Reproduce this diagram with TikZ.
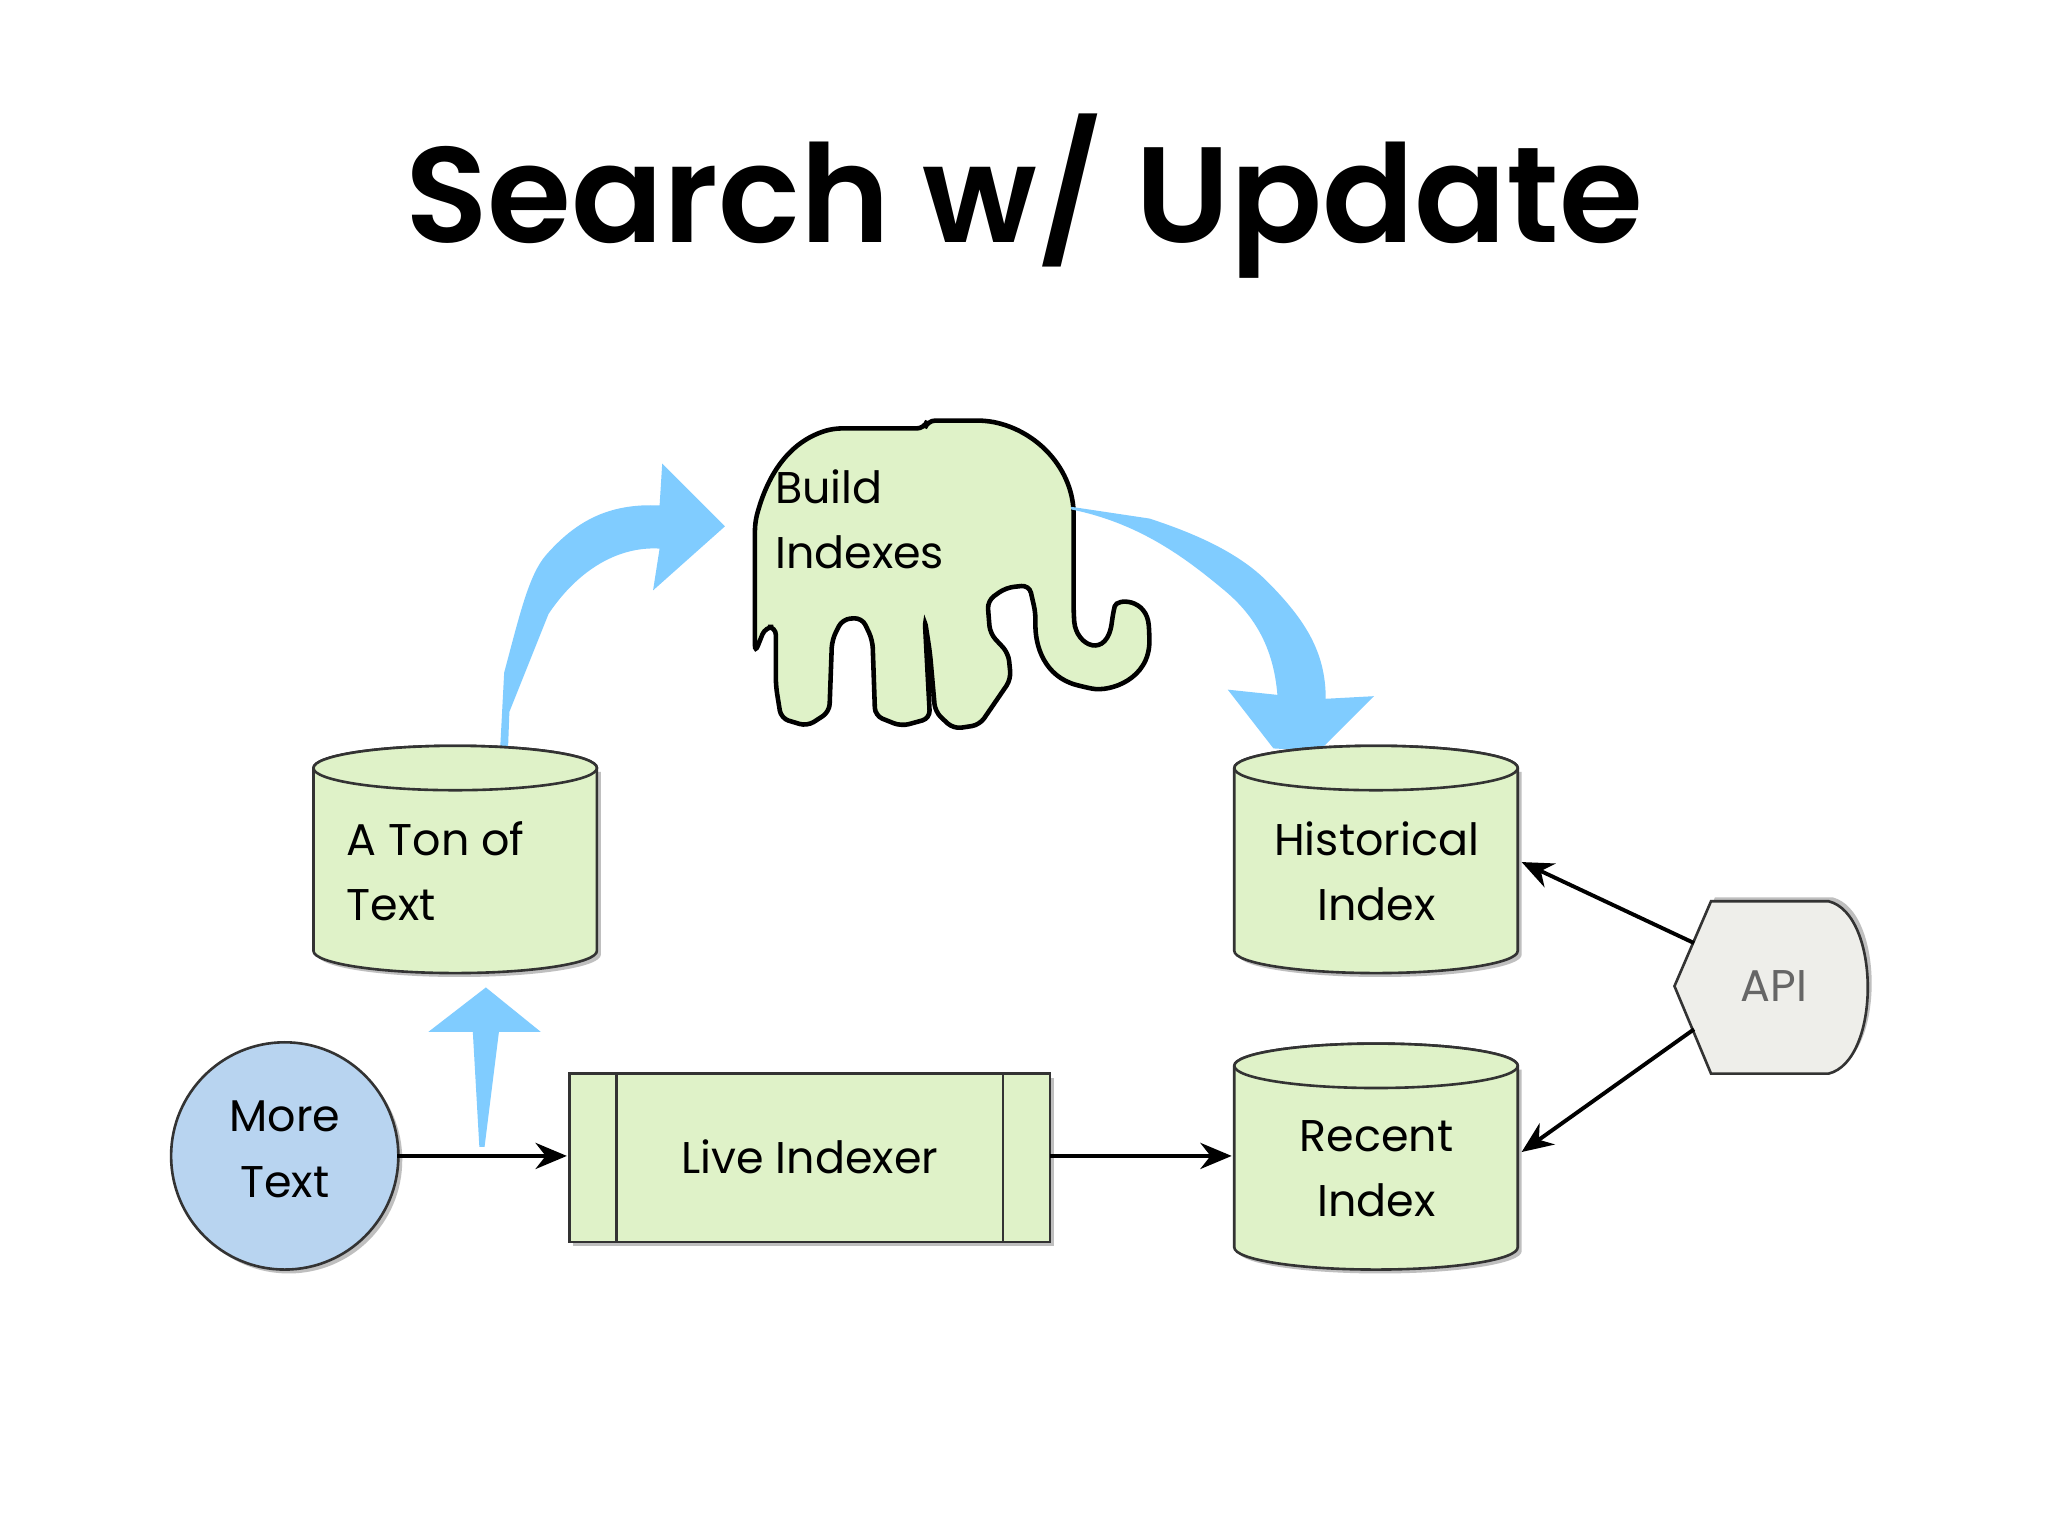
\documentclass[tikz,border=0pt]{standalone}
\usepackage{fontspec}
\setmainfont{Poppins}
\usetikzlibrary{arrows.meta,shapes.geometric}
\definecolor{gfill}{HTML}{DFF2C8}
\definecolor{bfill}{HTML}{B8D4F0}
\definecolor{afill}{HTML}{80CCFF}
\definecolor{apifill}{HTML}{EEEEEA}
\tikzset{
 lbl/.style={font=\fontsize{34}{50}\selectfont, align=center},
 cyl/.style={draw=black!80, fill=gfill, line width=2pt},
 conn/.style={line width=3pt, -{Stealth[length=24pt,width=20pt]}},
 fat/.style={fill=afill, draw=none}
}
\newcommand{\cylinder}[4]{% x1,x2,ytop,ybot
 \fill[black!25,xshift=3pt,yshift=-3pt] (#1,#3) -- (#1,#4) arc[x radius={(#2-#1)/2}, y radius=17, start angle=180, end angle=0] -- (#2,#3) -- cycle;
 \path[cyl] (#1,#3) -- (#1,#4) arc[x radius={(#2-#1)/2}, y radius=17, start angle=180, end angle=0] -- (#2,#3) arc[x radius={(#2-#1)/2}, y radius=17, start angle=0, end angle=-180] -- cycle;
 \draw[cyl] ({(#1+#2)/2},#3) ellipse[x radius={(#2-#1)/2}, y radius=17];
}
\begin{document}
\begin{tikzpicture}[x=1pt,y=-1pt]
\useasboundingbox[fill=white] (0,0) rectangle (1568,1176);
\node[font=\fontsize{104}{120}\selectfont\fontspec{Poppins SemiBold}] (title) at (784,150) {Search w/ Update};

% elephant
\draw[fill=gfill, line width=3.5pt, rounded corners=6pt]
 (578,400) .. controls (588,362) and (605,338) .. (638,328) -- (708,328) -- (710,322) -- (755,322)
 .. controls (795,330) and (822,360) .. (822,400) -- (822,470)
 .. controls (824,495) and (848,505) .. (852,470) .. controls (855,458) and (878,458) .. (880,485)
 .. controls (880,520) and (850,530) .. (830,526) .. controls (800,518) and (792,495) .. (793,470)
 -- (788,448) -- (770,450) -- (756,460) -- (758,485) -- (772,500) -- (774,520) -- (750,555)
 -- (730,558) -- (716,545) -- (712,500) -- (708,474) -- (712,550) -- (690,556) -- (670,548)
 -- (668,490) -- (660,473) -- (645,474) -- (637,490) -- (635,545) -- (618,556) -- (598,550)
 -- (594,525) -- (594,480) -- (586,480) -- (578,500) -- cycle;
\node[lbl, align=left, anchor=north west] (build) at (590,356) {Build\\Indexes};

% fat blue arrows
\fill[fat] (383,572) -- (386,515) .. controls (398,470) and (405,440) .. (418,425)
 .. controls (440,400) and (465,385) .. (505,387) -- (507,355) -- (555,403) -- (500,452) -- (505,420)
 .. controls (470,418) and (440,440) .. (420,470) -- (390,545) -- (389,572) -- cycle;
\fill[fat] (820,388) -- (880,397) .. controls (920,410) and (950,425) .. (970,445)
 .. controls (1000,475) and (1015,500) .. (1015,535) -- (1052,533) -- (1010,575) -- (975,573) -- (940,528) -- (978,532)
 .. controls (975,495) and (960,470) .. (935,450) .. controls (905,425) and (870,400) .. (820,390) -- cycle;
\fill[fat] (367,878) -- (362,790) -- (328,790) -- (372,756) -- (414,790) -- (382,790) -- (371,878) -- cycle;

% cylinders
\cylinder{240}{457}{588}{728}
\node[lbl, align=left, anchor=west] (ton) at (262,667) {A Ton of\\Text};
\cylinder{945}{1162}{588}{728}
\node[lbl] (hist) at (1054,667) {Historical\\Index};
\cylinder{945}{1162}{816}{955}
\node[lbl] (rec) at (1054,895) {Recent\\Index};

% more text
\fill[black!25] (221,888) circle[radius=87];
\draw[fill=bfill, line width=2pt, draw=black!80] (218,885) circle[radius=87];
\node[lbl] (more) at (218,880) {More\\Text};

% live indexer
\fill[black!25] (439,825) rectangle (807,954);
\draw[fill=gfill, line width=2pt, draw=black!80] (436,822) rectangle (804,951);
\draw[line width=2pt, draw=black!80] (472,822) -- (472,951) (768,822) -- (768,951);
\node[lbl] (live) at (620,886) {Live Indexer};

% API
\fill[black!25,xshift=3pt,yshift=3pt] (1282,755) -- (1310,690) -- (1400,690) .. controls (1440,700) and (1440,812) .. (1400,822) -- (1310,822) -- cycle;
\draw[fill=apifill, line width=2pt, draw=black!80] (1282,755) -- (1310,690) -- (1400,690) .. controls (1440,700) and (1440,812) .. (1400,822) -- (1310,822) -- cycle;
\node[lbl, text=black!60] (api) at (1358,755) {API};

% connectors
\coordinate (m1) at (304,885); \coordinate (l1) at (434,885);
\coordinate (l2) at (804,885); \coordinate (r1) at (943,885);
\coordinate (a1) at (1297,722); \coordinate (h1) at (1165,660);
\coordinate (a2) at (1297,788); \coordinate (r2) at (1165,882);
\draw[conn] (m1) -- (l1);
\draw[conn] (l2) -- (r1);
\draw[conn] (a1) -- (h1);
\draw[conn] (a2) -- (r2);
\end{tikzpicture}
\end{document}
